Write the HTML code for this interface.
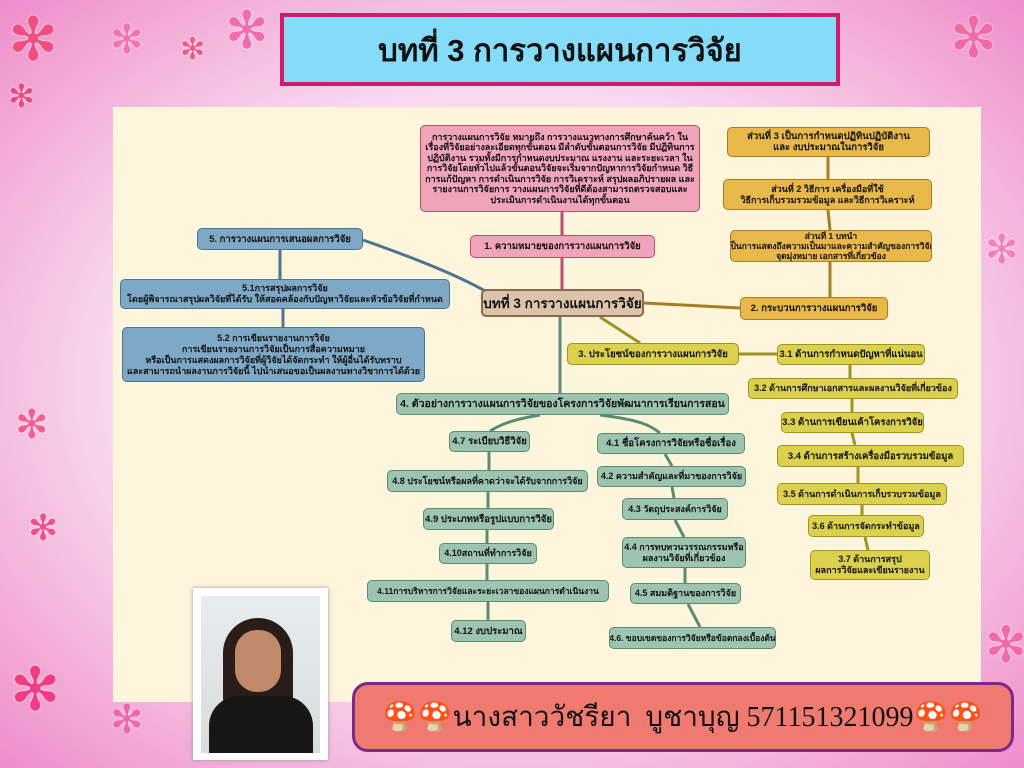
<!DOCTYPE html>
<html><head><meta charset="utf-8"><style>
*{margin:0;padding:0;box-sizing:border-box}
body{width:1024px;height:768px;overflow:hidden;position:relative;font-family:"Liberation Sans","Noto Sans CJK SC",sans-serif;
background:radial-gradient(ellipse at 50% 50%,#fdf0fa 0%,#f8d8ee 55%,#f2a6d4 85%,#ee8ccb 100%)}
.cream{position:absolute;left:113px;top:107px;width:868px;height:595px;background:#fdf5dc}
.n{position:absolute;display:flex;align-items:center;justify-content:center;text-align:center;font-weight:bold;font-size:9.5px;line-height:11px;border-radius:5px;color:#111;white-space:nowrap;overflow:hidden}
.p{background:#f0a4bc;border:1.5px solid #b8506e}
.b{background:#7ea9c6;border:1.5px solid #4e7590}
.g{background:#e8b84a;border:1.5px solid #a87e20}
.y{background:#dcd14c;border:1.5px solid #a09420}
.t{background:#9dc4b0;border:1.5px solid #5d8a74}
.fl{position:absolute;color:#f0508c;font-size:46px;line-height:1;text-shadow:0 0 2px #fff}
</style></head><body>
<div class="fl" style="left:8px;top:10px;font-size:60px;color:#f04e80">✻</div>
<div class="fl" style="left:110px;top:20px;font-size:40px;color:#f472b0">✻</div>
<div class="fl" style="left:180px;top:35px;font-size:30px;color:#ec5a8a">✻</div>
<div class="fl" style="left:225px;top:5px;font-size:52px;color:#f06cb0">✻</div>
<div class="fl" style="left:8px;top:80px;font-size:32px;color:#e84a7c">✻</div>
<div class="fl" style="left:15px;top:405px;font-size:40px;color:#f0608e">✻</div>
<div class="fl" style="left:28px;top:510px;font-size:36px;color:#f0508a">✻</div>
<div class="fl" style="left:10px;top:660px;font-size:60px;color:#f03c80">✻</div>
<div class="fl" style="left:110px;top:700px;font-size:40px;color:#f066aa">✻</div>
<div class="fl" style="left:950px;top:10px;font-size:56px;color:#f06aa8">✻</div>
<div class="fl" style="left:985px;top:230px;font-size:40px;color:#f080b8">✻</div>
<div class="fl" style="left:985px;top:620px;font-size:50px;color:#f06aa8">✻</div>
<div class="cream"></div>
<div style="position:absolute;left:280px;top:13px;width:560px;height:73px;background:#86dcf8;border:4px solid #d01a6a;display:flex;align-items:center;justify-content:center;font-weight:bold;font-size:31px;color:#111">บทที่ 3 การวางแผนการวิจัย</div>

<svg style="position:absolute;left:0;top:0" width="1024" height="768">
<g fill="none" stroke-width="3">
<path d="M562 212 L562 235 M562 258 L562 289" stroke="#b8506e"/>
<path d="M363 240 C420 260 470 280 500 300" stroke="#4e7590"/>
<path d="M280 250 L280 279 M283 309 L283 327" stroke="#4e7590"/>
<path d="M644 303 L740 308" stroke="#a87e20"/>
<path d="M828 157 L828 179 M828 210 L830 230 M830 262 L830 297" stroke="#a87e20"/>
<path d="M600 317 L640 343" stroke="#a09420"/>
<path d="M739 354 L777 354 M850 365 L850 378 M852 399 L852 412 M852 433 L855 445 M858 467 L858 483 M862 505 L862 515 M865 537 L868 550" stroke="#a09420"/>
<path d="M560 317 L560 393" stroke="#5d8a74"/>
<path d="M540 415 C510 420 500 425 490 431 M600 415 C640 420 650 425 660 433" stroke="#5d8a74"/>
<path d="M489 452 L489 470 M488 492 L488 508 M487 530 L487 543 M487 564 L487 580 M488 602 L488 620" stroke="#5d8a74"/>
<path d="M665 454 L672 466 M672 487 L674 498 M675 520 L684 537 M685 568 L685 583 M688 604 L700 627" stroke="#5d8a74"/>
</g></svg>

<div class="n p" style="left:420px;top:125px;width:280px;height:87px;font-size:9px;line-height:10.5px;white-space:normal;padding:0 4px">การวางแผนการวิจัย หมายถึง การวางแนวทางการศึกษาค้นคว้า ในเรื่องที่วิจัยอย่างละเอียดทุกขั้นตอน มีลำดับขั้นตอนการวิจัย มีปฏิทินการปฏิบัติงาน รวมทั้งมีการกำหนดงบประมาณ แรงงาน และระยะเวลา ในการวิจัยโดยทั่วไปแล้วขั้นตอนวิจัยจะเริ่มจากปัญหาการวิจัยกำหนด วิธีการแก้ปัญหา การดำเนินการวิจัย การวิเคราะห์ สรุปผลอภิปรายผล และรายงานการวิจัยการ วางแผนการวิจัยที่ดีต้องสามารถตรวจสอบและประเมินการดำเนินงานได้ทุกขั้นตอน</div>
<div class="n p" style="left:470px;top:235px;width:185px;height:23px">1. ความหมายของการวางแผนการวิจัย</div>
<div class="n" style="left:481px;top:289px;width:163px;height:28px;background:#dcc4ac;border:2px solid #8a6a4a;font-size:13.5px">บทที่ 3 การวางแผนการวิจัย</div>

<div class="n b" style="left:197px;top:228px;width:166px;height:22px">5. การวางแผนการเสนอผลการวิจัย</div>
<div class="n b" style="left:120px;top:279px;width:330px;height:30px;font-size:9px">5.1การสรุปผลการวิจัย<br>โดยผู้พิจารณาสรุปผลวิจัยที่ได้รับ ให้สอดคล้องกับปัญหาวิจัยและหัวข้อวิจัยที่กำหนด</div>
<div class="n b" style="left:122px;top:327px;width:303px;height:55px;font-size:9px">5.2 การเขียนรายงานการวิจัย<br>การเขียนรายงานการวิจัยเป็นการสื่อความหมาย<br>หรือเป็นการแสดงผลการวิจัยที่ผู้วิจัยได้จัดกระทำ ให้ผู้อื่นได้รับทราบ<br>และสามารถนำผลงานการวิจัยนี้ ไปนำเสนอขอเป็นผลงานทางวิชาการได้ด้วย</div>

<div class="n g" style="left:727px;top:127px;width:203px;height:30px">ส่วนที่ 3 เป็นการกำหนดปฏิทินปฏิบัติงาน<br>และ งบประมาณในการวิจัย</div>
<div class="n g" style="left:723px;top:179px;width:209px;height:31px;font-size:9px">ส่วนที่ 2 วิธีการ เครื่องมือที่ใช้<br>วิธีการเก็บรวมรวมข้อมูล และวิธีการวิเคราะห์</div>
<div class="n g" style="left:730px;top:230px;width:202px;height:32px;font-size:8.5px;line-height:10px">ส่วนที่ 1 บทนำ<br>เป็นการแสดงถึงความเป็นมาและความสำคัญของการวิจัย<br>จุดมุ่งหมาย เอกสารที่เกี่ยวข้อง</div>
<div class="n g" style="left:740px;top:297px;width:148px;height:23px">2. กระบวนการวางแผนการวิจัย</div>

<div class="n y" style="left:567px;top:343px;width:172px;height:22px">3. ประโยชน์ของการวางแผนการวิจัย</div>
<div class="n y" style="left:777px;top:344px;width:148px;height:21px">3.1 ด้านการกำหนดปัญหาที่แน่นอน</div>
<div class="n y" style="left:748px;top:378px;width:210px;height:21px;font-size:9px">3.2 ด้านการศึกษาเอกสารและผลงานวิจัยที่เกี่ยวข้อง</div>
<div class="n y" style="left:781px;top:412px;width:143px;height:21px">3.3 ด้านการเขียนเค้าโครงการวิจัย</div>
<div class="n y" style="left:777px;top:445px;width:187px;height:22px">3.4 ด้านการสร้างเครื่องมือรวบรวมข้อมูล</div>
<div class="n y" style="left:777px;top:483px;width:170px;height:22px;font-size:9px">3.5 ด้านการดำเนินการเก็บรวบรวมข้อมูล</div>
<div class="n y" style="left:808px;top:515px;width:116px;height:22px;font-size:9px">3.6 ด้านการจัดกระทำข้อมูล</div>
<div class="n y" style="left:810px;top:550px;width:120px;height:30px;font-size:9px">3.7 ด้านการสรุป<br>ผลการวิจัยและเขียนรายงาน</div>

<div class="n t" style="left:396px;top:393px;width:333px;height:22px;font-size:10.5px">4. ตัวอย่างการวางแผนการวิจัยของโครงการวิจัยพัฒนาการเรียนการสอน</div>
<div class="n t" style="left:449px;top:431px;width:81px;height:21px">4.7 ระเบียบวิธีวิจัย</div>
<div class="n t" style="left:387px;top:470px;width:201px;height:22px;font-size:9px">4.8 ประโยชน์หรือผลที่คาดว่าจะได้รับจากการวิจัย</div>
<div class="n t" style="left:423px;top:508px;width:131px;height:22px">4.9 ประเภทหรือรูปแบบการวิจัย</div>
<div class="n t" style="left:439px;top:543px;width:98px;height:21px;font-size:9px">4.10สถานที่ทำการวิจัย</div>
<div class="n t" style="left:367px;top:580px;width:242px;height:22px;font-size:8.5px">4.11การบริหารการวิจัยและระยะเวลาของแผนการดำเนินงาน</div>
<div class="n t" style="left:451px;top:620px;width:75px;height:22px">4.12 งบประมาณ</div>
<div class="n t" style="left:597px;top:433px;width:148px;height:21px">4.1 ชื่อโครงการวิจัยหรือชื่อเรื่อง</div>
<div class="n t" style="left:597px;top:466px;width:149px;height:21px;font-size:9px">4.2 ความสำคัญและที่มาของการวิจัย</div>
<div class="n t" style="left:622px;top:498px;width:106px;height:22px;font-size:9px">4.3 วัตถุประสงค์การวิจัย</div>
<div class="n t" style="left:622px;top:537px;width:124px;height:31px;font-size:9px">4.4 การทบทวนวรรณกรรมหรือ<br>ผลงานวิจัยที่เกี่ยวข้อง</div>
<div class="n t" style="left:630px;top:583px;width:111px;height:21px;font-size:9px">4.5 สมมติฐานของการวิจัย</div>
<div class="n t" style="left:609px;top:627px;width:167px;height:22px;font-size:8.5px">4.6. ขอบเขตของการวิจัยหรือข้อตกลงเบื้องต้น</div>

<div style="position:absolute;left:193px;top:588px;width:135px;height:172px;background:#fff;box-shadow:0 0 4px #999">
<div style="position:absolute;left:8px;top:8px;width:119px;height:157px;background:linear-gradient(#e8ecee,#d8dcdc)">
<div style="position:absolute;left:22px;top:22px;width:70px;height:90px;background:#2a1c18;border-radius:35px 35px 10px 10px"></div>
<div style="position:absolute;left:34px;top:34px;width:46px;height:62px;background:#c08a6a;border-radius:22px"></div>
<div style="position:absolute;left:8px;top:100px;width:104px;height:57px;background:#161616;border-radius:30px 30px 0 0"></div>
</div></div>

<div style="position:absolute;left:352px;top:682px;width:662px;height:70px;background:#f07a70;border:3px solid #7a2a8a;border-radius:16px;display:flex;align-items:center;justify-content:center;font-family:'Liberation Serif','Noto Serif CJK SC',serif;font-size:28px;color:#111;white-space:nowrap">🍄🍄นางสาววัชรียา&nbsp; บูชาบุญ 571151321099🍄🍄</div>
</body></html>
